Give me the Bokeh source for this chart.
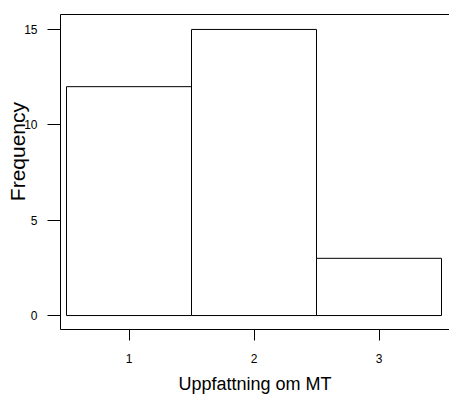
from bokeh.plotting import figure
from bokeh.models import Range1d, FixedTicker, LinearAxis
from bokeh.embed import file_html
from bokeh.resources import INLINE

# Data
categories = [1, 2, 3]
counts = [12, 15, 3]
bin_lefts = [0.5, 1.5, 2.5]
bin_rights = [1.5, 2.5, 3.5]
x_ticks = [1, 2, 3]
y_ticks = [0, 5, 10, 15]
x_title = "Uppfattning om MT"
y_title = "Frequency"

FONT = "Liberation Sans"

p = figure(width=449, height=396, output_backend="svg", toolbar_location=None,
           x_range=Range1d(0.452, 3.564), y_range=Range1d(-0.732, 15.784),
           min_border_left=60, min_border_right=0, min_border_top=14, min_border_bottom=66)

p.quad(left=bin_lefts, right=bin_rights, bottom=[0] * len(counts), top=counts,
       fill_color="white", line_color="black", line_width=1)

p.grid.visible = False
p.outline_line_color = None
p.background_fill_color = "white"
p.border_fill_color = "white"

xa = p.below[0]
ya = p.left[0]

for ax in (xa, ya):
    ax.axis_line_color = "black"
    ax.axis_line_width = 1
    ax.major_tick_in = 0
    ax.minor_tick_line_color = None
    ax.major_tick_line_color = "black"
    ax.major_label_text_font = FONT
    ax.major_label_text_font_size = "12px"
    ax.major_label_text_color = "black"
    ax.axis_label_text_font = FONT
    ax.axis_label_text_font_style = "normal"
    ax.axis_label_text_color = "black"

xa.ticker = FixedTicker(ticks=x_ticks)
ya.ticker = FixedTicker(ticks=y_ticks)
xa.major_tick_out = 11
ya.major_tick_out = 13
xa.major_label_standoff = 13
ya.major_label_standoff = 10
ya.major_label_orientation = "horizontal"
xa.axis_label = x_title
# the reference's y title sits above the box centre: pad it with no-break spaces
ya.axis_label = "\u00a0" * 7 + y_title
xa.axis_label_text_font_size = "18px"
ya.axis_label_text_font_size = "21px"
xa.axis_label_standoff = 8
ya.axis_label_standoff = -8

# top border of the box (no ticks, no labels)
top = LinearAxis(ticker=FixedTicker(ticks=[]), major_tick_line_color=None,
                 minor_tick_line_color=None, axis_line_color="black")
p.add_layout(top, "above")

open("out.html", "w").write(file_html(p, INLINE))
